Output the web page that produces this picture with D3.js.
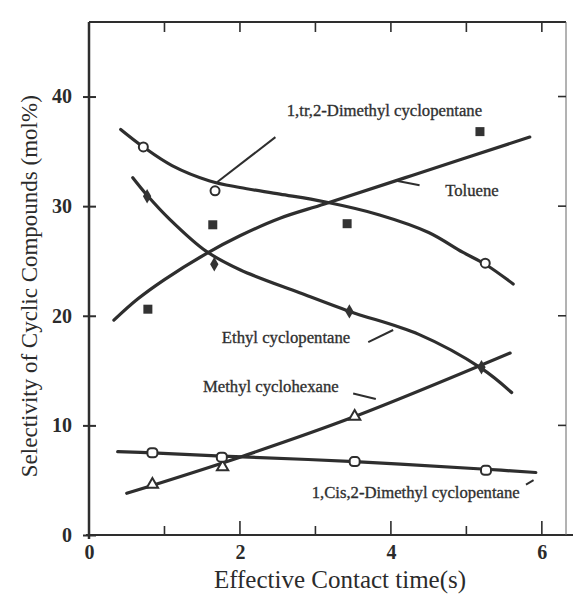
<!DOCTYPE html>
<html>
<head>
<meta charset="utf-8">
<script src="https://cdn.jsdelivr.net/npm/d3@7"></script>
<style>
  body { margin: 0; background: #fff; }
  svg text { font-family: "Liberation Serif", "DejaVu Serif", serif; fill: #2b2b2b; }
</style>
</head>
<body>
<div id="chart"></div>
<script>
// Values
const transX = [0.72, 1.67, 5.25];
const transY = [35.4, 31.4, 24.8];
const transCurveX = [0.42, 0.72, 1.1, 1.6, 2.0, 2.53, 3.12, 3.85, 4.5, 4.95, 5.25, 5.62];
const transCurveY = [37.0, 35.4, 33.7, 32.3, 31.7, 31.1, 30.4, 29.2, 27.6, 25.8, 24.7, 22.9];

const tolX = [0.78, 1.64, 3.42, 5.18];
const tolY = [20.6, 28.3, 28.4, 36.8];
const tolCurveX = [0.33, 0.64, 1.0, 1.56, 2.0, 2.53, 3.12, 4.28, 5.84];
const tolCurveY = [19.6, 21.5, 23.3, 25.7, 27.3, 28.9, 30.2, 32.8, 36.3];

const ethX = [0.77, 1.66, 3.45, 5.2];
const ethY = [30.9, 24.7, 20.4, 15.3];
const ethCurveX = [0.58, 0.77, 1.07, 1.55, 2.0, 2.79, 3.45, 4.37, 5.2, 5.6];
const ethCurveY = [32.6, 31.0, 28.8, 25.9, 24.2, 22.1, 20.4, 18.3, 15.2, 13.0];

const metX = [0.84, 1.77, 3.52];
const metY = [4.6, 6.2, 10.8];
const metCurveX = [0.5, 2.0, 3.52, 5.58];
const metCurveY = [3.8, 7.1, 10.8, 16.6];

const cisX = [0.84, 1.76, 3.52, 5.26];
const cisY = [7.5, 7.1, 6.7, 5.9];
const cisCurveX = [0.38, 0.84, 1.76, 3.52, 5.26, 5.92];
const cisCurveY = [7.6, 7.5, 7.2, 6.7, 6.0, 5.7];

const yTicks = [0, 10, 20, 30, 40];
const xTicks = [0, 2, 4, 6];

const width = 573, height = 597;
const ink = "#2e2e2e";

const svg = d3.select("#chart").append("svg")
    .attr("width", width)
    .attr("height", height);

const x = d3.scaleLinear().domain([0, 6.32]).range([89, 566]);
const y = d3.scaleLinear().domain([0, 46.8]).range([535, 22]);

// frame
svg.append("line").attr("x1", x(0)).attr("x2", x(0)).attr("y1", y(46.8)).attr("y2", y(0) + 4)
    .attr("stroke", ink).attr("stroke-width", 2.5);
svg.append("line").attr("x1", x(0) - 3).attr("x2", width).attr("y1", y(0)).attr("y2", y(0))
    .attr("stroke", ink).attr("stroke-width", 2);
svg.append("line").attr("x1", x(0)).attr("x2", x(6.32)).attr("y1", y(46.8)).attr("y2", y(46.8))
    .attr("stroke", ink).attr("stroke-width", 2);
svg.append("line").attr("x1", x(6.32)).attr("x2", x(6.32)).attr("y1", y(46.8)).attr("y2", y(0))
    .attr("stroke", "#666").attr("stroke-width", 1);

// left axis, ticks crossing the line
const yAxis = svg.append("g")
    .attr("transform", `translate(${x(0)},0)`)
    .call(d3.axisLeft(y).tickValues(yTicks).tickSize(6).tickPadding(11).tickFormat(d3.format("d")));
yAxis.select(".domain").remove();
yAxis.selectAll(".tick line").attr("x1", -6).attr("x2", 7).attr("stroke", ink).attr("stroke-width", 2);
yAxis.selectAll(".tick text").attr("font-size", 20).attr("font-weight", "bold")
    .attr("font-family", "Liberation Serif");

// bottom axis
const xAxis = svg.append("g")
    .attr("transform", `translate(0,${y(0)})`)
    .call(d3.axisBottom(x).tickValues(xTicks).tickSize(0).tickPadding(10).tickFormat(d3.format("d")));
xAxis.select(".domain").remove();
xAxis.selectAll(".tick text").attr("font-size", 20).attr("font-weight", "bold")
    .attr("font-family", "Liberation Serif");

// inner ticks
svg.append("g").selectAll("line").data([1, 2, 3, 4, 5, 6]).join("line")
    .attr("x1", d => x(d)).attr("x2", d => x(d))
    .attr("y1", y(0)).attr("y2", d => y(0) - (d % 2 === 0 ? 14 : 9))
    .attr("stroke", ink).attr("stroke-width", 1.6);
svg.append("g").selectAll("line").data([1, 2, 3, 4, 5, 6]).join("line")
    .attr("x1", d => x(d)).attr("x2", d => x(d))
    .attr("y1", y(46.8)).attr("y2", y(46.8) + 10)
    .attr("stroke", ink).attr("stroke-width", 1.6);
svg.append("g").selectAll("line").data([10, 20, 30, 40]).join("line")
    .attr("x1", x(6.32)).attr("x2", x(6.32) - 8)
    .attr("y1", d => y(d)).attr("y2", d => y(d))
    .attr("stroke", ink).attr("stroke-width", 1.6);

// axis titles
svg.append("text")
    .attr("transform", `translate(37,${y(22.7)}) rotate(-90)`)
    .attr("text-anchor", "middle")
    .attr("font-size", 23)
    .text("Selectivity of Cyclic Compounds (mol%)");
svg.append("text")
    .attr("x", 340).attr("y", 588)
    .attr("text-anchor", "middle")
    .attr("font-size", 25)
    .text("Effective Contact time(s)");

// curves
const line = d3.line().x(d => x(d[0])).y(d => y(d[1])).curve(d3.curveCatmullRom.alpha(0.5));
const curves = [
    [transCurveX, transCurveY],
    [tolCurveX, tolCurveY],
    [ethCurveX, ethCurveY],
    [metCurveX, metCurveY],
    [cisCurveX, cisCurveY]
];
svg.append("g").selectAll("path").data(curves).join("path")
    .attr("d", c => line(d3.zip(c[0], c[1])))
    .attr("fill", "none")
    .attr("stroke", ink)
    .attr("stroke-width", 3.2)
    .attr("stroke-linecap", "round");

// markers
svg.append("g").selectAll("circle").data(d3.zip(transX, transY)).join("circle")
    .attr("cx", d => x(d[0])).attr("cy", d => y(d[1])).attr("r", 4.5)
    .attr("fill", "#fff").attr("stroke", ink).attr("stroke-width", 2);

svg.append("g").selectAll("rect").data(d3.zip(tolX, tolY)).join("rect")
    .attr("x", d => x(d[0]) - 4.5).attr("y", d => y(d[1]) - 4.5)
    .attr("width", 9).attr("height", 9).attr("fill", "#333");

svg.append("g").selectAll("path").data(d3.zip(ethX, ethY)).join("path")
    .attr("transform", d => `translate(${x(d[0])},${y(d[1])})`)
    .attr("d", d3.symbol(d3.symbolDiamond, 60))
    .attr("fill", "#333");

svg.append("g").selectAll("path").data(d3.zip(metX, metY)).join("path")
    .attr("transform", d => `translate(${x(d[0])},${y(d[1])})`)
    .attr("d", d3.symbol(d3.symbolTriangle, 55))
    .attr("fill", "#fff").attr("stroke", ink).attr("stroke-width", 2);

svg.append("g").selectAll("rect").data(d3.zip(cisX, cisY)).join("rect")
    .attr("x", d => x(d[0]) - 5).attr("y", d => y(d[1]) - 4.5)
    .attr("width", 10).attr("height", 9).attr("rx", 3.5)
    .attr("fill", "#fff").attr("stroke", ink).attr("stroke-width", 2);

// labels and their leader lines
const labels = [
    { text: "1,tr,2-Dimethyl cyclopentane", x: 2.62, y: 38.2 },
    { text: "Toluene", x: 4.72, y: 30.9 },
    { text: "Ethyl cyclopentane", x: 1.76, y: 17.5 },
    { text: "Methyl cyclohexane", x: 1.51, y: 13.05 },
    { text: "1,Cis,2-Dimethyl cyclopentane", x: 2.95, y: 3.38 }
];
svg.append("g").selectAll("text").data(labels).join("text")
    .attr("x", d => x(d.x)).attr("y", d => y(d.y))
    .attr("font-size", 16.7)
    .attr("stroke", "#3a3a3a")
    .attr("stroke-width", 0.35)
    .text(d => d.text);

const leaders = [
    [[1.7, 32.2], [2.47, 36.3]],
    [[4.09, 32.3], [4.38, 31.9]],
    [[3.7, 17.6], [4.03, 18.7]],
    [[3.5, 12.9], [3.8, 12.4]],
    [[5.79, 4.6], [5.89, 5.0]]
];
svg.append("g").selectAll("line").data(leaders).join("line")
    .attr("x1", d => x(d[0][0])).attr("y1", d => y(d[0][1]))
    .attr("x2", d => x(d[1][0])).attr("y2", d => y(d[1][1]))
    .attr("stroke", ink).attr("stroke-width", 2);
</script>
</body>
</html>
